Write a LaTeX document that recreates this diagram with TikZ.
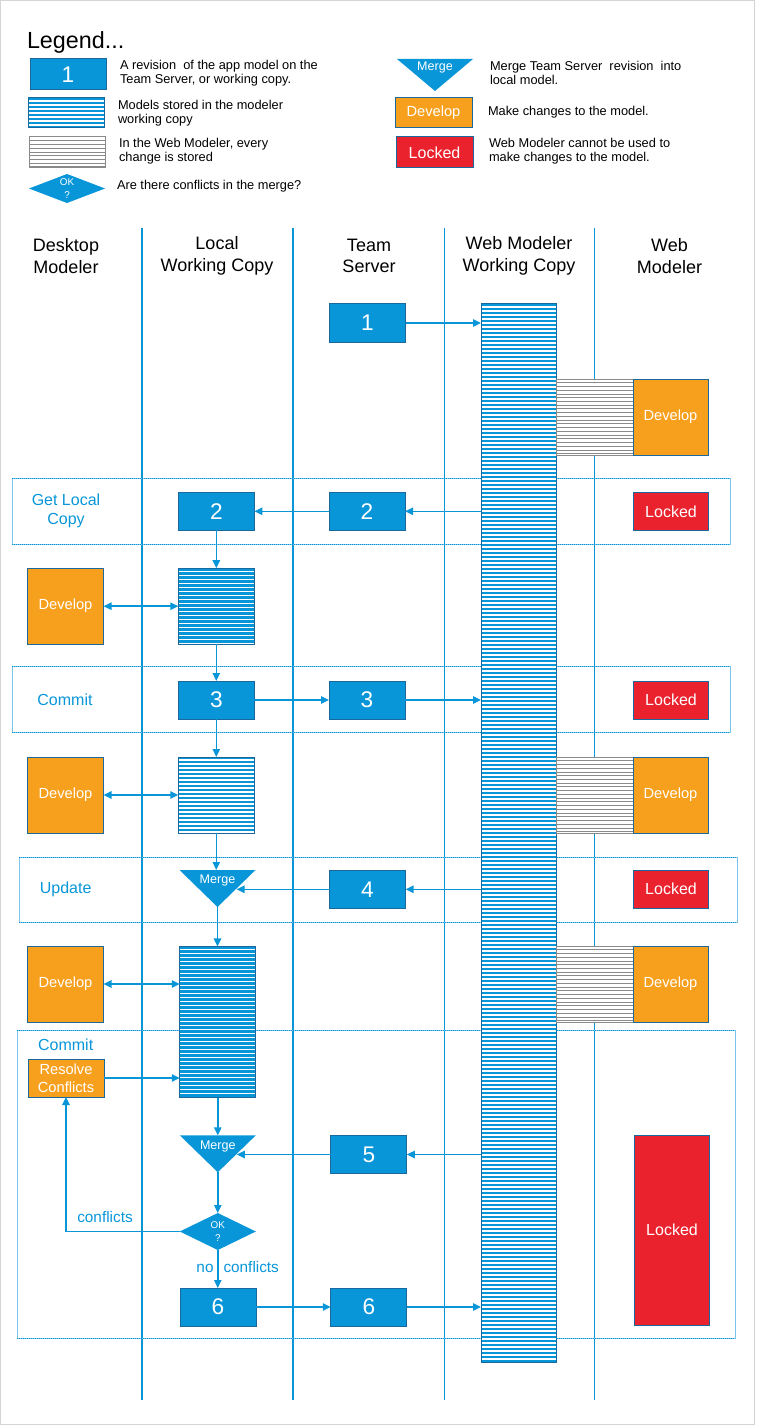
\documentclass[tikz,border=0pt]{standalone}
\usepackage{fontspec}
\setmainfont{Liberation Sans}
\usetikzlibrary{arrows.meta,shapes.geometric,calc}

\definecolor{cblue}{RGB}{8,150,217}
\definecolor{cedge}{RGB}{26,104,156}
\definecolor{clight}{RGB}{120,196,234}
\definecolor{corange}{RGB}{247,160,30}
\definecolor{cred}{RGB}{234,34,46}
\definecolor{chatch}{RGB}{138,138,138}
\definecolor{cframe}{RGB}{212,212,212}

\newcommand{\setfs}[2]{\fontsize{#1}{#2}\selectfont}
% downward-pointing merge triangle inside a named box node
\newcommand{\mergeshape}[1]{\fill[cblue] (#1.north west) -- (#1.north east) -- (#1.south) -- cycle;}

\begin{document}
\begin{tikzpicture}[x=0.75pt,y=-0.75pt,
  every node/.style={inner sep=0pt, outer sep=0pt},
  boxbase/.style={draw=cedge, line width=0.75pt, text=white, minimum width=57pt},
  rev/.style={boxbase, fill=cblue, minimum height=28.5pt, font=\setfs{17}{17}},
  devbox/.style={boxbase, fill=corange, minimum height=57pt, font=\setfs{11}{13}},
  lockbox/.style={boxbase, fill=cred, minimum height=28.5pt, font=\setfs{12}{14}},
  bluehatch/.style={draw=cedge, line width=0.75pt, fill=cblue, minimum width=57pt,
    path picture={\foreach \k in {1,...,280}{
      \draw[white, line width=1.15pt]
        ([yshift={-\k*3pt+0.6pt}]path picture bounding box.north west) --
        ([yshift={-\k*3pt+0.6pt}]path picture bounding box.north east);}}},
  grayhatch/.style={draw=chatch, line width=0.75pt, fill=white, minimum width=57.75pt,
    path picture={\foreach \k in {1,...,40}{
      \draw[chatch, line width=0.6pt]
        ([yshift={-\k*2.8pt}]path picture bounding box.north west) --
        ([yshift={-\k*2.8pt}]path picture bounding box.north east);}}},
  mergebox/.style={minimum width=57pt, minimum height=27.75pt},
  mergelbl/.style={text=white, font=\setfs{9.4}{10}},
  okdia/.style={diamond, fill=cblue, minimum width=57pt, minimum height=27.75pt,
    aspect=2, text=white, align=center, font=\setfs{7.4}{9.75}},
  phaselbl/.style={text=cblue, align=center, font=\setfs{12}{14.3}},
  flowlbl/.style={text=cblue, font=\setfs{11.5}{13}},
  head/.style={align=center, font=\setfs{13.5}{16.3}},
  legtxt/.style={anchor=west, align=left, font=\setfs{9.6}{10.5}},
  arr/.style={cblue, line width=1.2pt, -{Triangle[length=6pt,width=5.5pt]}},
  darr/.style={cblue, line width=1.2pt,
    {Triangle[length=6pt,width=5.5pt]}-{Triangle[length=6pt,width=5.5pt]}},
  lane/.style={cblue, line width=0.8pt},
  phasebox/.style={clight, line width=0.75pt},
  phasedots/.style={cblue, line width=0.75pt, dash pattern=on 0.75pt off 0.75pt},
]
\useasboundingbox (0,0) rectangle (757,1426);
\draw[cframe, line width=1.1pt] (0.7,0.7) rectangle (754.5,1424.5);

% ---------- legend ----------
\node[anchor=base west, font=\setfs{17.5}{20}] (legtitle) at (27,49) {Legend...};
\node[rev, minimum height=23.25pt] (lrev) at (68,74.5) {1};
\node[legtxt] (lrevt) at (120,73.5) {A revision\ \ of the app model on the\\Team Server, or working copy.};
\node[bluehatch, minimum height=22.5pt] (lhb) at (66,113) {};
\node[legtxt] (lhbt) at (118,113.5) {Models stored in the modeler\\working copy};
\node[grayhatch, minimum width=57pt, minimum height=23.25pt] (lgh) at (67,152.5) {};
\node[legtxt] (lght) at (119,151.5) {In the Web Modeler, every\\change is stored};
\node[okdia, minimum height=21.75pt, aspect=2.6, font=\setfs{7.4}{9.2}] (lok) at (67,188.5) {OK\\?};
\node[legtxt] (lokt) at (117,186) {Are there conflicts in the merge?};
\node[mergebox, minimum height=24pt] (lmg) at (435,75) {};
\mergeshape{lmg}
\node[mergelbl] (lmgl) at (435,67) {Merge};
\node[legtxt] (lmgt) at (490,73.3) {Merge Team Server\ \ revision\ \ into\\local model.};
\node[devbox, minimum height=22.5pt, minimum width=57.75pt] (ldev) at (433.5,113) {Develop};
\node[legtxt] (ldevt) at (488,111.7) {Make changes to the model.};
\node[lockbox, minimum height=23.25pt, minimum width=57.75pt] (llock) at (434.5,152.5) {Locked};
\node[legtxt] (llockt) at (489,151) {Web Modeler cannot be used to\\make changes to the model.};

% ---------- swimlanes ----------
\node[head] (hd1) at (66,256) {Desktop\\Modeler};
\node[head] (hd2) at (217,256) {Local\\Working Copy};
\node[head] (hd3) at (369,256) {Team\\Server};
\node[head] (hd4) at (519,256) {Web Modeler\\Working Copy};
\node[head] (hd5) at (669.5,256) {Web\\Modeler};
\foreach \x in {142,293,444.5,594.5}{\draw[lane] (\x,228) -- (\x,1400);}

% ---------- phase frames ----------
\draw[phasebox] (12,478) rectangle (730,544);
\draw[phasedots] (12,478) -- (730,478) (12,544) -- (730,544);
\draw[phasebox] (12,666) rectangle (730,732);
\draw[phasedots] (12,666) -- (730,666) (12,732) -- (730,732);
\draw[phasebox] (19,857) rectangle (737,922);
\draw[phasedots] (19,857) -- (737,857) (19,922) -- (737,922);
\draw[phasebox] (17,1030) rectangle (735,1338);
\draw[phasedots] (17,1030) -- (735,1030) (17,1338) -- (735,1338);

% ---------- initial revision and web modeler working copy ----------
\node[rev] (t1) at (367.5,323) {1};
\node[bluehatch, minimum width=56.25pt, minimum height=793.5pt] (wc) at (518.5,833) {};
\node[grayhatch, minimum height=57pt] (g1) at (594.5,417) {};
\node[devbox, minimum width=56.25pt] (d1) at (670.5,417) {Develop};

% ---------- get local copy ----------
\node[phaselbl] (pl1) at (66,511) {Get Local\\Copy};
\node[rev] (l2) at (216.3,511.3) {2};
\node[rev] (t2) at (367,511.3) {2};
\node[lockbox, minimum width=56.5pt] (k1) at (671,511.3) {Locked};
\node[bluehatch, minimum height=57pt] (h1) at (216.3,606.2) {};
\node[devbox] (dv1) at (65.5,606.2) {Develop};

% ---------- commit ----------
\node[phaselbl] (pl2) at (65,700) {Commit};
\node[rev] (l3) at (216.3,700) {3};
\node[rev] (t3) at (367,700) {3};
\node[lockbox, minimum width=56.5pt] (k2) at (671,700) {Locked};
\node[bluehatch, minimum height=57pt] (h2) at (216.3,795) {};
\node[devbox] (dv2) at (65.5,795) {Develop};
\node[grayhatch, minimum height=57pt] (g2) at (594.5,795) {};
\node[devbox, minimum width=56.25pt] (d2) at (670.5,795) {Develop};

% ---------- update ----------
\node[phaselbl] (pl3) at (65.7,889) {Update};
\node[mergebox] (m1) at (217.5,888.5) {};
\mergeshape{m1}
\node[mergelbl] (m1l) at (217.5,880.7) {Merge};
\coordinate (m1e) at ($(m1.north east)!0.5!(m1.south)$);
\node[rev] (t4) at (367.5,889.3) {4};
\node[lockbox, minimum width=56.5pt] (k3) at (671,889) {Locked};
\node[bluehatch, minimum height=113.6pt] (h3) at (217.8,1022.2) {};
\node[devbox] (dv3) at (65.5,984) {Develop};
\node[grayhatch, minimum height=57pt] (g3) at (594.5,984) {};
\node[devbox, minimum width=56.25pt] (d3) at (670.5,984) {Develop};

% ---------- commit with conflicts ----------
\node[phaselbl] (pl4) at (65.7,1044.3) {Commit};
\node[devbox, minimum height=28.5pt, font=\setfs{11}{13.3}, align=center] (rc) at (66,1078) {Resolve\\Conflicts};
\node[mergebox] (m2) at (217.8,1153.8) {};
\mergeshape{m2}
\node[mergelbl] (m2l) at (217.8,1146) {Merge};
\coordinate (m2e) at ($(m2.north east)!0.5!(m2.south)$);
\node[rev] (t5) at (368.8,1154.5) {5};
\node[okdia] (ok) at (217.8,1231.5) {OK\\?};
\node[rev] (b6l) at (218,1307) {6};
\node[rev] (b6t) at (368.8,1307) {6};
\node[lockbox, minimum width=56.5pt, minimum height=142.7pt] (kb) at (672,1230.2) {Locked};
\node[flowlbl] (cfl) at (105,1216.7) {conflicts};
\node[flowlbl] (ncfl) at (237.7,1266.7) {no\hspace{7.5pt}conflicts};

% ---------- connectors ----------
\draw[arr] (t1.east) -- (t1.east -| wc.west);
\draw[arr] (wc.west |- t2.east) -- (t2.east);
\draw[arr] (t2.west) -- (l2.east);
\draw[arr] (l2.south) -- (l2.south |- h1.north);
\draw[darr] (dv1.east) -- (h1.west);
\draw[arr] (h1.south) -- (h1.south |- l3.north);
\draw[arr] (l3.east) -- (t3.west);
\draw[arr] (t3.east) -- (t3.east -| wc.west);
\draw[arr] (l3.south) -- (l3.south |- h2.north);
\draw[darr] (dv2.east) -- (h2.west);
\draw[arr] (h2.south) -- (h2.south |- m1.north);
\draw[arr] (wc.west |- t4.east) -- (t4.east);
\draw[arr] (t4.west) -- (m1e |- t4.west);
\draw[arr] (m1.south) -- (m1.south |- h3.north);
\draw[darr] (dv3.east) -- (dv3.east -| h3.west);
\draw[arr] (rc.east) -- (rc.east -| h3.west);
\draw[arr] (h3.south) -- (h3.south |- m2.north);
\draw[arr] (wc.west |- t5.east) -- (t5.east);
\draw[arr] (t5.west) -- (m2e |- t5.west);
\draw[arr] (m2.south) -- (ok.north);
\draw[arr] (ok.west) -| (rc.south);
\draw[arr] (ok.south) -- (ok.south |- b6l.north);
\draw[arr] (b6l.east) -- (b6t.west);
\draw[arr] (b6t.east) -- (b6t.east -| wc.west);
\end{tikzpicture}
\end{document}
